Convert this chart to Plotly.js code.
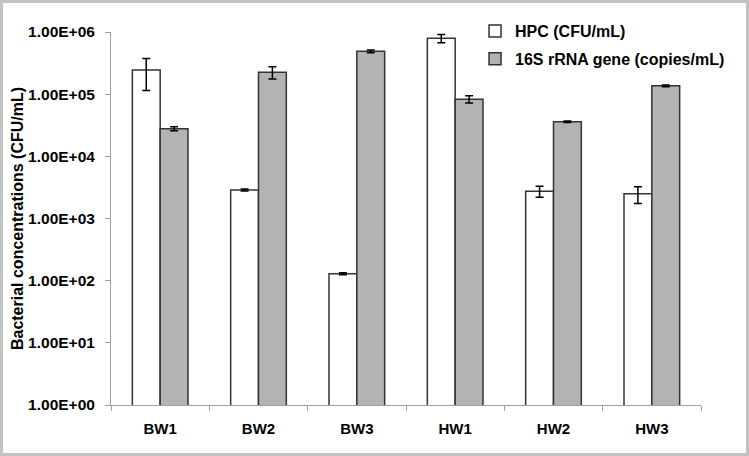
<!DOCTYPE html>
<html>
<head>
<meta charset="utf-8">
<script src="https://cdn.plot.ly/plotly-3.0.1.min.js"></script>
<style>
  html, body { margin: 0; padding: 0; background: #fff; }
  #wrap { position: relative; width: 749px; height: 456px; }
  #chart { position: absolute; left: 0; top: 0; width: 749px; height: 456px; }
  #frame { position: absolute; left: 0; top: 0; width: 749px; height: 456px; box-sizing: border-box; border: 3px solid #c3c3c3; pointer-events: none; }
</style>
</head>
<body>
<div id="wrap"><div id="chart"></div><div id="frame"></div></div>
<script>
const categories = ["BW1", "BW2", "BW3", "HW1", "HW2", "HW3"];
const hpcValues = [245000, 2870, 129, 790000, 2740, 2500];
const hpcErrors = [130000, 100, 5, 120000, 550, 750];
const rrnaValues = [27800, 225000, 490000, 83000, 36000, 136000];
const rrnaErrors = [2000, 50000, 25000, 11000, 1000, 4000];
const yTickVals = [1, 10, 100, 1000, 10000, 100000, 1000000];
const yTickText = ["1.00E+00", "1.00E+01", "1.00E+02", "1.00E+03", "1.00E+04", "1.00E+05", "1.00E+06"];
const seriesNames = ["HPC (CFU/mL)", "16S rRNA gene (copies/mL)"];

const errStyle = { type: "data", visible: true, color: "#000", thickness: 1.5, width: 4 };

const traces = [
  {
    type: "bar", name: seriesNames[0], x: categories, y: hpcValues,
    error_y: Object.assign({ array: hpcErrors }, errStyle),
    marker: { color: "#ffffff", line: { color: "#333333", width: 1.5 } },
    legendgroup: "a"
  },
  {
    type: "bar", name: seriesNames[1], x: categories, y: rrnaValues,
    error_y: Object.assign({ array: rrnaErrors }, errStyle),
    marker: { color: "#b3b3b3", line: { color: "#333333", width: 1.5 } },
    legendgroup: "b"
  }
];

const layout = {
  width: 749, height: 456,
  margin: { l: 111, r: 48, t: 32, b: 51 },
  paper_bgcolor: "#ffffff", plot_bgcolor: "#ffffff",
  font: { family: "Liberation Sans, Arial, sans-serif", color: "#000" },
  barmode: "group",
  bargap: 0.434,
  bargroupgap: 0,
  showlegend: true,
  legend: {
    x: 0.617, y: 1.048, xanchor: "left", yanchor: "top",
    font: { family: "Liberation Sans, Arial, sans-serif", size: 16, weight: "bold" },
    traceorder: "grouped", tracegroupgap: 4,
    bgcolor: "rgba(0,0,0,0)"
  },
  xaxis: {
    type: "category",
    showline: true, linecolor: "#a0a0a0", linewidth: 1,
    ticks: "outside", tickson: "boundaries", ticklen: 5, tickcolor: "#a0a0a0",
    ticklabelstandoff: 10,
    tickfont: { family: "Liberation Sans, Arial, sans-serif", size: 15, weight: "bold" },
    showgrid: false, zeroline: false
  },
  yaxis: {
    type: "log", range: [0, 6],
    showline: true, linecolor: "#a0a0a0", linewidth: 1,
    ticks: "outside", ticklen: 5, tickcolor: "#a0a0a0",
    ticklabelstandoff: 7,
    tickvals: yTickVals, ticktext: yTickText,
    tickfont: { family: "Liberation Sans, Arial, sans-serif", size: 15.5, weight: "bold" },
    showgrid: false, zeroline: false,
    title: { text: "Bacterial concentrations (CFU/mL)", standoff: 0,
             font: { family: "Liberation Sans, Arial, sans-serif", size: 16, weight: "bold" } }
  }
};

Plotly.newPlot("chart", traces, layout, { displayModeBar: false, staticPlot: true });
</script>
</body>
</html>
